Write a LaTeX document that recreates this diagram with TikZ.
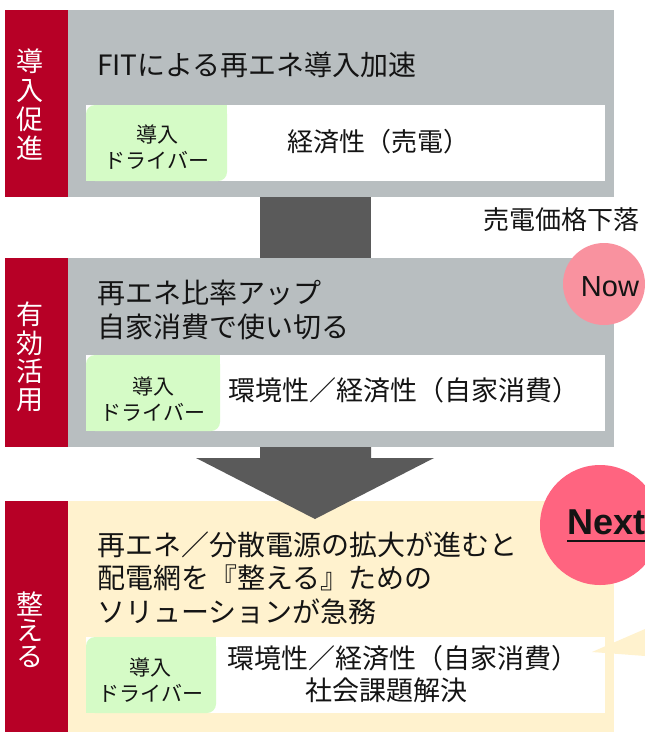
\documentclass[tikz,border=0pt]{standalone}
\usepackage{fontspec}
\setmainfont{Noto Sans CJK JP}
\newfontfamily\latinf{Liberation Sans}
\definecolor{redc}{RGB}{183,0,38}
\definecolor{grayc}{RGB}{184,190,192}
\definecolor{darkc}{RGB}{90,90,90}
\definecolor{greenc}{RGB}{213,251,198}
\definecolor{creamc}{RGB}{255,242,206}
\definecolor{nowc}{RGB}{249,146,159}
\definecolor{nextc}{RGB}{255,100,128}
\definecolor{textc}{RGB}{20,20,20}
\begin{document}
\begin{tikzpicture}[x=1pt,y=-1pt,
  txt/.style={inner sep=0pt, text=textc},
  side/.style={inner sep=0pt, text=white, align=center},
  big/.style={txt, align=left, font=\fontsize{28}{34}\selectfont},
  drv/.style={txt, align=center, font=\fontsize{21}{26}\selectfont},
  arrowfill/.style={fill=darkc}]
\useasboundingbox (0,0) rectangle (645,732);
\clip (0,0) rectangle (645,732);

% ---------- section 1 ----------
\fill[redc] (5,10) rectangle (68,197);
\fill[grayc] (68,10) rectangle (614,197);
\fill[white] (86,105) rectangle (605,181);
\fill[greenc, rounded corners=9pt] (86,105) rectangle (227,181);
\fill[greenc] (217,105) rectangle (227,115);
\fill[greenc] (86,171) rectangle (96,181);

% arrow 1
\fill[arrowfill] (260,197) rectangle (371,258);

% ---------- section 2 ----------
\fill[redc] (5,258) rectangle (68,447);
\fill[grayc] (68,258) rectangle (614,447);
\fill[white] (86,355) rectangle (605,431);
\fill[greenc, rounded corners=9pt] (86,355) rectangle (220,431);
\fill[greenc] (210,355) rectangle (220,365);
\fill[greenc] (86,421) rectangle (96,431);

% ---------- section 3 ----------
\fill[redc] (5,501) rectangle (68,732);
\fill[creamc] (68,501) rectangle (614,732);
\fill[white] (86,637) rectangle (605,713);
\fill[greenc, rounded corners=9pt] (86,637) rectangle (216,713);
\fill[greenc] (206,637) rectangle (216,647);
\fill[greenc] (86,703) rectangle (96,713);

% arrow 2
\fill[arrowfill] (260,447) -- (371,447) -- (371,458) -- (434,458) -- (315,519)
  -- (196,458) -- (260,458) -- cycle;

% callout wedge
\fill[creamc] (592,652) -- (645,629) -- (645,656) -- cycle;

% circles
\fill[nowc] (604,284) circle (41pt);
\fill[nextc] (600,525) circle (60pt);

% ---------- texts ----------
\node[side, font=\fontsize{27}{29}\selectfont] (l1) at (30,105) {導\\入\\促\\進};
\node[side, font=\fontsize{27}{28.3}\selectfont] (l2) at (30,357) {有\\効\\活\\用};
\node[side, font=\fontsize{27}{26}\selectfont] (l3) at (30,630) {整\\え\\る};

\node[big, anchor=west] (t1) at (97,65) {FITによる再エネ導入加速};
\node[drv] (d1) at (157,147) {導入\\ドライバー};
\node[txt, font=\fontsize{26}{30}\selectfont] (e1) at (378,142) {経済性（売電）};

\node[txt, font=\fontsize{26}{30}\selectfont] (drop) at (561,220) {売電価格下落};

\node[big, anchor=west] (t2) at (97,310) {再エネ比率アップ\\自家消費で使い切る};
\node[drv] (d2) at (153,399) {導入\\ドライバー};
\node[txt, anchor=west, font=\fontsize{27}{30}\selectfont] (e2) at (228,390) {環境性／経済性（自家消費）};

\node[big, anchor=west, font=\fontsize{28}{33.5}\selectfont] (t3) at (97,578) {再エネ／分散電源の拡大が進むと\\配電網を『整える』ための\\ソリューションが急務};
\node[drv] (d3) at (151,680) {導入\\ドライバー};
\node[txt, font=\fontsize{27}{30}\selectfont] (e3a) at (403,658) {環境性／経済性（自家消費）};
\node[txt, font=\fontsize{27}{30}\selectfont] (e3b) at (386,690) {社会課題解決};

\node[txt, font=\latinf\fontsize{29}{29}\selectfont] (now) at (610,287) {Now};
\node[txt, anchor=base west, font=\latinf\bfseries\fontsize{36}{36}\selectfont] (nx) at (567,534) {Next};
\draw[textc, line width=2pt] ([yshift=-7pt]nx.base west) -- ([yshift=-7pt]nx.base east);
\end{tikzpicture}
\end{document}
